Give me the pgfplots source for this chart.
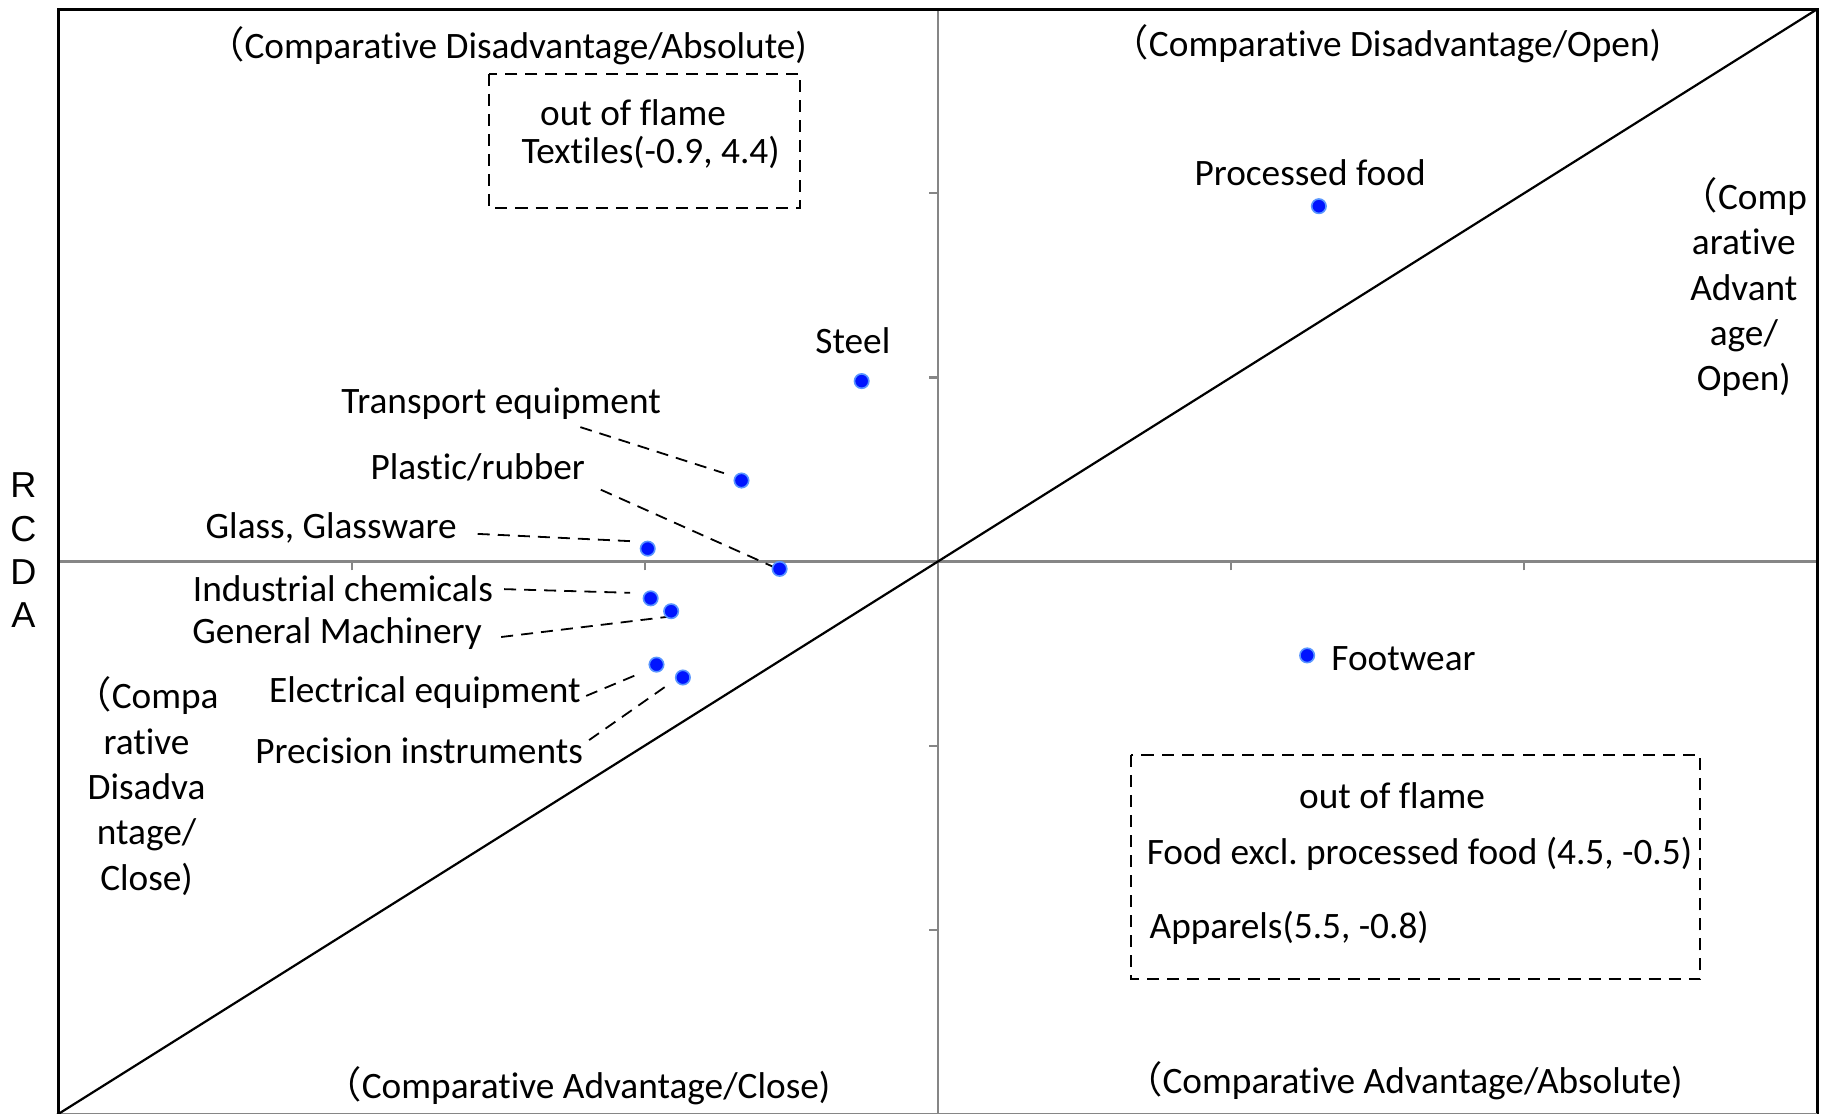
\documentclass[border=0pt]{standalone}
\usepackage{fontspec}
\setmainfont{Carlito}[Ligatures=NoCommon]
\newfontfamily\arial{Liberation Sans}
\newfontfamily\cjk{Noto Sans CJK JP}
\usepackage{pgfplots}
\pgfplotsset{compat=1.18}
\definecolor{axgray}{RGB}{134,134,134}
\definecolor{ptblue}{RGB}{0,20,255}
\definecolor{ptedge}{RGB}{90,150,255}
\newcommand{\lp}{{\cjk （}}
\begin{document}
\begin{tikzpicture}[
  lbl/.style={font=\fontsize{9.3}{11.3}\selectfont, inner sep=0pt},
  lead/.style={densely dashed, black, line width=0.45pt},
  ofbox/.style={draw=black, densely dashed, line width=0.5pt}
]
\begin{axis}[
  scale only axis,
  width=15.41cm, height=9.68cm,
  xmin=-3, xmax=3, ymin=-3, ymax=3,
  axis lines=middle,
  axis line style={-, draw=axgray, line width=0.55pt},
  xtick={-2,-1,1,2}, ytick={-2,-1,1,2},
  xticklabels={}, yticklabels={},
  tick align=outside,
  major tick length=2.2pt,
  tick style={axgray, line width=0.55pt},
  clip=false,
]
% frame
\draw[black, line width=0.7pt] (rel axis cs:0,0) -- (rel axis cs:0,1) -- (rel axis cs:1,1) -- (rel axis cs:1,0);
\draw[axgray, line width=0.6pt] (rel axis cs:0,0) -- (rel axis cs:1,0);

% 45 degree line
\addplot[black, line width=0.55pt] coordinates {(-3.02,-3.02) (3,3)};

% industries
\addplot[only marks, mark=*, mark size=1.8pt,
  mark options={fill=ptblue, draw=ptedge, line width=0.4pt}] coordinates {
  (1.30,1.93)    % Processed food
  (-0.26,0.98)   % Steel
  (-0.67,0.44)   % Transport equipment
  (-0.99,0.07)   % Glass, Glassware
  (-0.54,-0.04)  % Plastic/rubber
  (-0.98,-0.20)  % Industrial chemicals
  (-0.91,-0.27)  % General Machinery
  (-0.96,-0.56)  % Electrical equipment
  (-0.87,-0.63)  % Precision instruments
  (1.26,-0.51)   % Footwear
};

% quadrant captions
\node[lbl] at (axis cs:-1.47,2.80) {\lp Comparative Disadvantage/Absolute)};
\node[lbl] at (axis cs:1.53,2.81) {\lp Comparative Disadvantage/Open)};
\node[lbl] at (axis cs:-1.23,-2.85) {\lp Comparative Advantage/Close)};
\node[lbl] at (axis cs:1.59,-2.82) {\lp Comparative Advantage/Absolute)};
\node[lbl, align=center, font=\fontsize{9.3}{11.3}\selectfont] at (axis cs:2.75,1.49)
  {\lp Comp\\arative\\Advant\\age/\\Open)};
\node[lbl, align=center, font=\fontsize{9.3}{11.3}\selectfont] at (axis cs:-2.70,-1.22)
  {\lp Compa\\rative\\Disadva\\ntage/\\Close)};

% point labels
\node[lbl] at (axis cs:1.27,2.11) {Processed food};
\node[lbl] at (axis cs:-0.29,1.20) {Steel};
\node[lbl] at (axis cs:-1.49,0.86) {Transport equipment};
\node[lbl] at (axis cs:-1.57,0.51) {Plastic/rubber};
\node[lbl] at (axis cs:-2.07,0.18) {Glass, Glassware};
\node[lbl] at (axis cs:-2.03,-0.15) {Industrial chemicals};
\node[lbl] at (axis cs:-2.05,-0.39) {General Machinery};
\node[lbl] at (axis cs:-1.75,-0.71) {Electrical equipment};
\node[lbl] at (axis cs:-1.77,-1.03) {Precision instruments};
\node[lbl, anchor=west] at (axis cs:1.34,-0.53) {Footwear};

% leader lines
\draw[lead] (axis cs:-1.22,0.73) -- (axis cs:-0.73,0.48);
\draw[lead] (axis cs:-1.15,0.39) -- (axis cs:-0.56,-0.03);
\draw[lead] (axis cs:-1.57,0.15) -- (axis cs:-1.04,0.11);
\draw[lead] (axis cs:-1.48,-0.15) -- (axis cs:-1.05,-0.17);
\draw[lead] (axis cs:-1.49,-0.41) -- (axis cs:-0.92,-0.30);
\draw[lead] (axis cs:-1.20,-0.73) -- (axis cs:-1.02,-0.61);
\draw[lead] (axis cs:-1.19,-0.97) -- (axis cs:-0.93,-0.68);

% out of frame boxes
\draw[ofbox] (axis cs:-1.53,2.65) rectangle (axis cs:-0.47,1.92);
\node[lbl] at (axis cs:-1.04,2.44) {out of flame};
\node[lbl] at (axis cs:-0.98,2.22) {Textiles(-0.9, 4.4)};

\draw[ofbox] (axis cs:0.66,-1.05) rectangle (axis cs:2.60,-2.27);
\node[lbl] at (axis cs:1.55,-1.27) {out of flame};
\node[lbl, anchor=west] at (axis cs:0.71,-1.59) {Food excl.\ processed food (4.5, -0.5)};
\node[lbl, anchor=west] at (axis cs:0.72,-1.99) {Apparels(5.5, -0.8)};

% y label
\node[align=center, font=\arial\fontsize{9}{10.8}\selectfont, inner sep=0pt] at (axis cs:-3.12,0.06) {R\\C\\D\\A};

\coordinate (bbl) at (axis cs:-3.2,-3);
\coordinate (btr) at (axis cs:3.044,3.05);
\end{axis}
\pgfresetboundingbox
\path[use as bounding box] (bbl) rectangle (btr);
\end{tikzpicture}
\end{document}
